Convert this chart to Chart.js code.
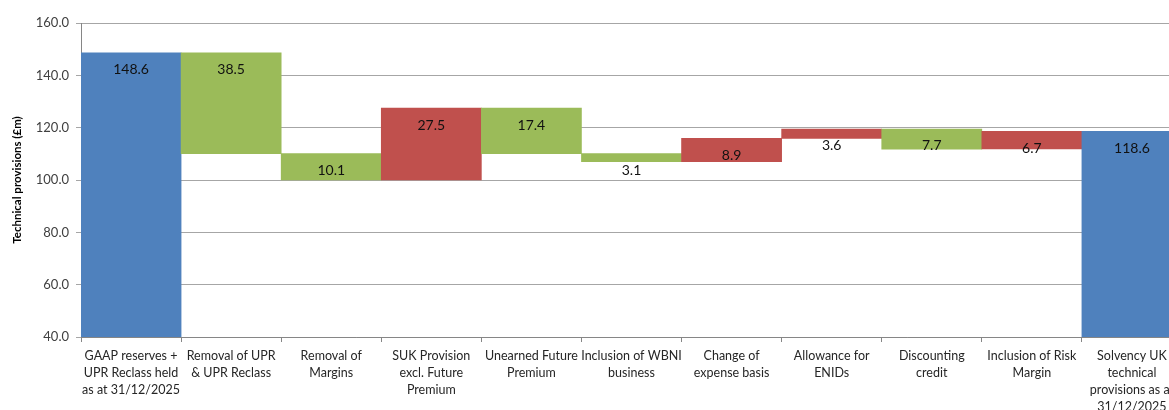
<!DOCTYPE html>
<html>
<head>
<meta charset="utf-8">
<script src="https://cdn.jsdelivr.net/npm/chart.js@4/dist/chart.umd.min.js"></script>
<style>
html,body{margin:0;padding:0;background:#fff;overflow:hidden;width:1169px;height:410px;}
#wrap{width:1190px;height:410px;position:relative;}
canvas{display:block;}
</style>
</head>
<body>
<div id="wrap"><canvas id="c" width="1190" height="410"></canvas></div>
<script>
const categories = [
  ["GAAP reserves +","UPR Reclass held","as at 31/12/2025"],
  ["Removal of UPR","& UPR Reclass"],
  ["Removal of","Margins"],
  ["SUK Provision","excl. Future","Premium"],
  ["Unearned Future","Premium"],
  ["Inclusion of WBNI","business"],
  ["Change of","expense basis"],
  ["Allowance for","ENIDs"],
  ["Discounting","credit"],
  ["Inclusion of Risk","Margin"],
  ["Solvency UK","technical","provisions as at","31/12/2025"]
];
const barStart = [0, 110.1, 100.0, 100.0, 110.1, 107.0, 107.0, 115.9, 111.8, 111.9, 0];
const barEnd   = [148.6, 148.6, 110.1, 127.5, 127.5, 110.1, 115.9, 119.5, 119.5, 118.6, 118.6];
const labelValues = [148.6, 38.5, 10.1, 27.5, 17.4, 3.1, 8.9, 3.6, 7.7, 6.7, 118.6];
const barKinds = ["total","down","down","up","down","down","up","up","down","up","total"];
const yTicks = [40, 60, 80, 100, 120, 140, 160];

const kindColor = {total:"#4F81BD", down:"#9BBB59", up:"#C0504D"};
const FONT = "Lato, 'Open Sans', sans-serif";

const labelPlugin = {
  id: "barLabels",
  afterDatasetsDraw(chart) {
    const ctx = chart.ctx;
    const meta = chart.getDatasetMeta(0);
    ctx.save();
    ctx.font = "14px " + FONT;
    ctx.fillStyle = "#111";
    ctx.textAlign = "center";
    ctx.textBaseline = "middle";
    meta.data.forEach((el, i) => {
      const top = Math.min(el.y, el.base);
      ctx.fillText(labelValues[i].toFixed(1), el.x, top + 17);
    });
    ctx.restore();
  }
};

new Chart(document.getElementById("c"), {
  type: "bar",
  data: {
    labels: categories,
    datasets: [{
      data: barStart.map((s, i) => [s, barEnd[i]]),
      backgroundColor: barKinds.map(k => kindColor[k]),
      borderWidth: 0,
      categoryPercentage: 1.0,
      barPercentage: 1.0
    }]
  },
  options: {
    responsive: false,
    animation: false,
    layout: {padding: {top: 23, right: 8, left: 0, bottom: 0}},
    plugins: {legend: {display: false}, tooltip: {enabled: false}},
    scales: {
      x: {
        grid: {display: true, drawOnChartArea: false, offset: true, tickLength: 5, color: "#868686"},
        border: {display: true, color: "#868686"},
        ticks: {
          maxRotation: 0, minRotation: 0, autoSkip: false, padding: 5,
          color: "#262626",
          font: {family: FONT, size: 12.5, lineHeight: 1.36}
        },
        afterFit(scale) { scale.height = 73; }
      },
      y: {
        min: 40, max: 160,
        afterBuildTicks(scale) { scale.ticks = yTicks.map(v => ({value: v})); },
        grid: {color: "#a6a6a6", tickLength: 5, drawTicks: true},
        border: {display: true, color: "#868686"},
        ticks: {
          padding: 7, color: "#404040",
          font: {family: FONT, size: 13},
          callback: v => Number(v).toFixed(1)
        },
        title: {
          display: true, text: "Technical provisions (£m)",
          color: "#000", font: {family: FONT, size: 11.5, weight: "bold"},
          padding: {top: 10, bottom: 0}
        },
        afterFit(scale) { scale.width = 81; }
      }
    }
  },
  plugins: [labelPlugin]
});
</script>
</body>
</html>
